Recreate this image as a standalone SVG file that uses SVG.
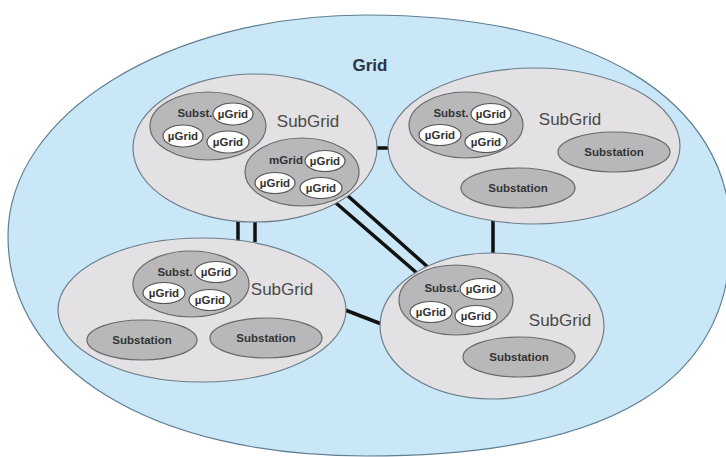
<svg xmlns="http://www.w3.org/2000/svg" width="726" height="457" viewBox="0 0 726 457">
<style>
.grid{fill:#c9e7f7;stroke:#5f7f92;stroke-width:1.2}
.sub{fill:#e3e1e3;stroke:#6f7f8a;stroke-width:1.2}
.dk{fill:#b8b8ba;stroke:#6a6a6e;stroke-width:1.2}
.mu{fill:#ffffff;stroke:#555;stroke-width:1.2}
.t{font-family:"Liberation Sans",Arial,sans-serif;font-weight:bold;font-size:11.5px;fill:#333;text-anchor:middle}
.sg{font-family:"Liberation Sans",Arial,sans-serif;font-size:17px;fill:#4a4a4a;text-anchor:middle}
.gl{font-family:"Liberation Sans",Arial,sans-serif;font-weight:bold;font-size:17px;fill:#2b3440;text-anchor:middle}
.c{stroke:#111;stroke-width:3.5;fill:none}
</style>
<rect width="726" height="457" fill="#ffffff"/>
<g id="grid">
<path class="grid" d="M8,236 C8,114 168.3,15 366,15 C592.3,15 731,99 731,236 C731,383.4 610.6,456 366,456 C151.2,456 8,368 8,236 Z"/>
<text class="gl" x="370" y="71">Grid</text>
</g>
<g id="connectors">
<line class="c" x1="372" y1="148" x2="392" y2="148"/>
<line class="c" x1="493" y1="220" x2="493" y2="256"/>
<line class="c" x1="238" y1="218" x2="238" y2="242"/>
<line class="c" x1="255" y1="218" x2="255" y2="242"/>
<line class="c" x1="336" y1="203" x2="418" y2="274"/>
<line class="c" x1="348" y1="196" x2="430" y2="269"/>
<line class="c" x1="340" y1="308" x2="384" y2="325"/>
</g>
<g id="subgrid-tl">
<ellipse class="sub" cx="255" cy="148" rx="122" ry="74"/>
<text class="sg" x="308" y="127">SubGrid</text>
<g id="tl-subst">
<ellipse class="dk" cx="208" cy="126" rx="58" ry="34"/>
<text class="t" x="195" y="117">Subst.</text>
<ellipse class="mu" cx="233" cy="114" rx="20" ry="11"/>
<text class="t" x="233" y="118">µGrid</text>
<ellipse class="mu" cx="183" cy="136" rx="20" ry="11"/>
<text class="t" x="183" y="140">µGrid</text>
<ellipse class="mu" cx="228" cy="142" rx="21" ry="11"/>
<text class="t" x="228" y="146">µGrid</text>
</g>
<g id="tl-mgrid">
<ellipse class="dk" cx="302" cy="172" rx="57" ry="34"/>
<text class="t" x="286" y="164">mGrid</text>
<ellipse class="mu" cx="325" cy="161" rx="20" ry="10.5"/>
<text class="t" x="325" y="165">µGrid</text>
<ellipse class="mu" cx="275" cy="183" rx="20" ry="10.5"/>
<text class="t" x="275" y="187">µGrid</text>
<ellipse class="mu" cx="321" cy="188" rx="21" ry="10.5"/>
<text class="t" x="321" y="192">µGrid</text>
</g>
</g>
<g id="subgrid-tr">
<ellipse class="sub" cx="534" cy="146" rx="146" ry="78"/>
<text class="sg" x="570" y="125">SubGrid</text>
<g id="tr-subst">
<ellipse class="dk" cx="466" cy="125" rx="57" ry="33"/>
<text class="t" x="451" y="117">Subst.</text>
<ellipse class="mu" cx="491" cy="114" rx="20" ry="10.5"/>
<text class="t" x="491" y="118">µGrid</text>
<ellipse class="mu" cx="440" cy="135" rx="21" ry="10.5"/>
<text class="t" x="440" y="139">µGrid</text>
<ellipse class="mu" cx="486" cy="142" rx="21" ry="10.5"/>
<text class="t" x="486" y="146">µGrid</text>
</g>
<g id="tr-substation-1">
<ellipse class="dk" cx="614" cy="152" rx="56" ry="20"/>
<text class="t" x="614" y="156">Substation</text>
</g>
<g id="tr-substation-2">
<ellipse class="dk" cx="518" cy="188" rx="57" ry="20"/>
<text class="t" x="518" y="192">Substation</text>
</g>
</g>
<g id="subgrid-bl">
<ellipse class="sub" cx="202" cy="310" rx="144" ry="72"/>
<text class="sg" x="282" y="295">SubGrid</text>
<g id="bl-subst">
<ellipse class="dk" cx="191" cy="284" rx="58" ry="33"/>
<text class="t" x="175" y="276">Subst.</text>
<ellipse class="mu" cx="216" cy="272" rx="21" ry="10.5"/>
<text class="t" x="216" y="276">µGrid</text>
<ellipse class="mu" cx="164" cy="293" rx="21" ry="10.5"/>
<text class="t" x="164" y="297">µGrid</text>
<ellipse class="mu" cx="210" cy="300" rx="21" ry="10.5"/>
<text class="t" x="210" y="304">µGrid</text>
</g>
<g id="bl-substation-1">
<ellipse class="dk" cx="142" cy="340" rx="55" ry="20"/>
<text class="t" x="142" y="344">Substation</text>
</g>
<g id="bl-substation-2">
<ellipse class="dk" cx="266" cy="338" rx="56" ry="20"/>
<text class="t" x="266" y="342">Substation</text>
</g>
</g>
<g id="subgrid-br">
<ellipse class="sub" cx="492" cy="326" rx="112" ry="73"/>
<text class="sg" x="560" y="326">SubGrid</text>
<g id="br-subst">
<ellipse class="dk" cx="456" cy="300" rx="57" ry="35"/>
<text class="t" x="442" y="292">Subst.</text>
<ellipse class="mu" cx="481" cy="289" rx="21" ry="10.5"/>
<text class="t" x="481" y="293">µGrid</text>
<ellipse class="mu" cx="431" cy="312" rx="21" ry="10.5"/>
<text class="t" x="431" y="316">µGrid</text>
<ellipse class="mu" cx="476" cy="316" rx="21" ry="10.5"/>
<text class="t" x="476" y="320">µGrid</text>
</g>
<g id="br-substation">
<ellipse class="dk" cx="519" cy="357" rx="56" ry="20"/>
<text class="t" x="519" y="361">Substation</text>
</g>
</g>
</svg>
